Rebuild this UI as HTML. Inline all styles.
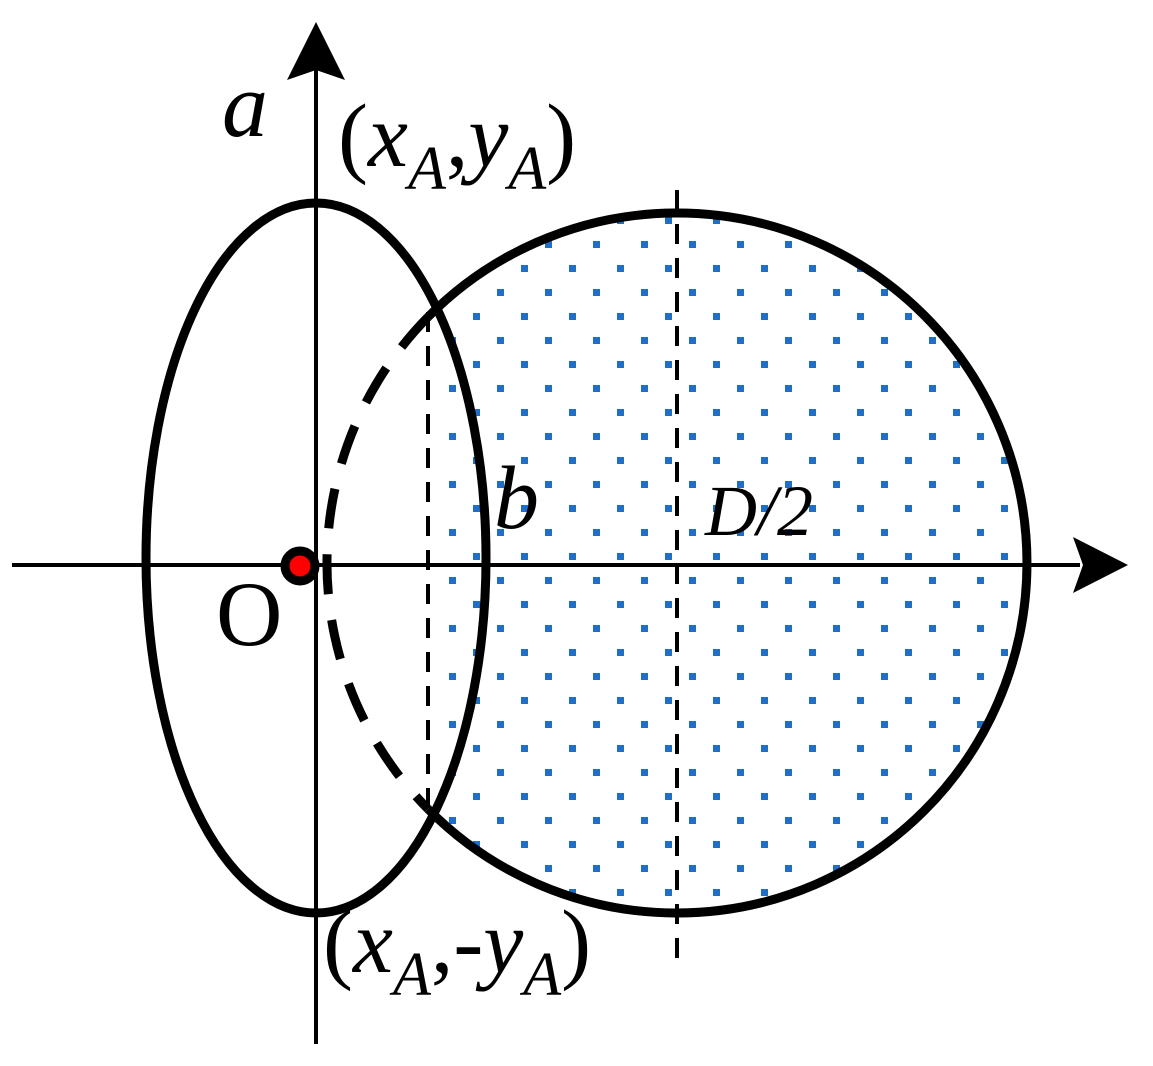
<!DOCTYPE html>
<html><head><style>html,body{margin:0;padding:0;background:#fff}svg{display:block}
text{font-family:"Liberation Serif","Times New Roman",serif}</style></head>
<body>
<svg width="1153" height="1066" viewBox="0 0 1153 1066" xmlns="http://www.w3.org/2000/svg">
<defs>
<pattern id="dots" patternUnits="userSpaceOnUse" x="0" y="0" width="48" height="48">
<rect x="17" y="1" width="7" height="7" fill="#1f6fc6"/>
<rect x="41" y="25" width="7" height="7" fill="#1f6fc6"/>
</pattern>
<clipPath id="cc"><circle cx="677" cy="563" r="346"/></clipPath>
</defs>
<rect x="436" y="200" width="620" height="730" fill="url(#dots)" clip-path="url(#cc)"/>
<line x1="12" y1="565" x2="1080" y2="565" stroke="#000" stroke-width="4"/>
<polygon points="1128,565 1073,537 1083,565 1073,593" fill="#000"/>
<line x1="316" y1="1044" x2="316" y2="70" stroke="#000" stroke-width="4"/>
<polygon points="316,22 287,80 316,70 345,80" fill="#000"/>
<ellipse cx="316" cy="558" rx="170" ry="355" fill="none" stroke="#000" stroke-width="9"/>
<path d="M428,317 A350,350 0 1 1 428,809" fill="none" stroke="#000" stroke-width="9"/>
<path d="M428,317 A350,350 0 0 0 428,809" fill="none" stroke="#000" stroke-width="9" stroke-dasharray="40,26"/>
<line x1="428" y1="312" x2="428" y2="815" stroke="#000" stroke-width="4" stroke-dasharray="20,14"/>
<line x1="677" y1="190" x2="677" y2="968" stroke="#000" stroke-width="4" stroke-dasharray="20,14"/>
<circle cx="300" cy="566" r="15" fill="#f00" stroke="#000" stroke-width="9"/>
<g fill="#000">
<text x="222" y="136" font-size="92" font-style="italic">a</text>
<text x="338" y="166" font-size="90">(<tspan font-style="italic">x</tspan><tspan font-style="italic" font-size="62" dy="23">A</tspan><tspan dy="-23">,</tspan><tspan font-style="italic">y</tspan><tspan font-style="italic" font-size="62" dy="23">A</tspan><tspan dy="-23">)</tspan></text>
<text x="494" y="528" font-size="90" font-style="italic">b</text>
<text x="705" y="535" font-size="72" font-style="italic">D/2</text>
<text x="216" y="645" font-size="92">O</text>
<text x="323" y="972" font-size="90">(<tspan font-style="italic">x</tspan><tspan font-style="italic" font-size="62" dy="23">A</tspan><tspan dy="-23">,-</tspan><tspan font-style="italic">y</tspan><tspan font-style="italic" font-size="62" dy="23">A</tspan><tspan dy="-23">)</tspan></text>
</g>
</svg>
</body></html>
